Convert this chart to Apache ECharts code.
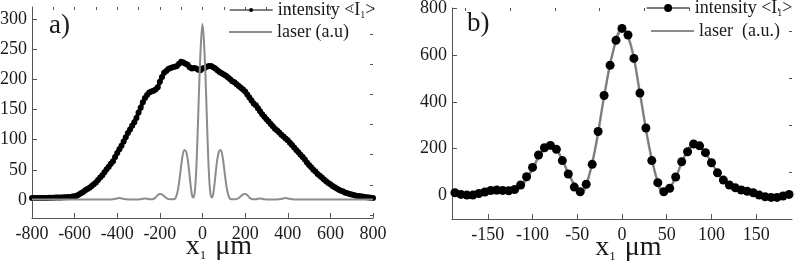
<!DOCTYPE html>
<html><head><meta charset="utf-8">
<script src="https://cdn.jsdelivr.net/npm/echarts@6/dist/echarts.min.js"></script>
<style>html,body{margin:0;padding:0;background:#fff}#c{width:795px;height:268px}</style>
</head><body><div id="c"></div>
<script>
// ---- panel a) data ----
const aIntX = [-800,-790,-780,-770,-760,-750,-740,-730,-720,-710,-700,-690,-680,-670,-660,-650,-640,-630,-620,
-610,-600,-590,-580,-570,-560,-550,-540,-530,-520,-510,-500,-490,-480,-470,-460,-450,-440,-430,-420,-410,
-400,-390,-380,-370,-360,-350,-340,-330,-320,-310,-300,-290,-280,-270,-260,-250,-240,-230,-220,-210,
-200,-190,-180,-170,-160,-150,-140,-130,-120,-110,-100,-90,-80,-70,-60,-50,-40,-30,-20,-10,
0,10,20,30,40,50,60,70,80,90,100,110,120,130,140,150,160,170,180,190,
200,210,220,230,240,250,260,270,280,290,300,310,320,330,340,350,360,370,380,390,
400,410,420,430,440,450,460,470,480,490,500,510,520,530,540,550,560,570,580,590,
600,610,620,630,640,650,660,670,680,690,700,710,720,730,740,750,760,770,780,790,800];
const aIntY = [3,3,3,3,3,3,3,3,3.5,3.5,3.5,4,4,4,4,4.5,4.5,5,5,
5.5,6,7,9,11,13,16,18,20,23,26,29,33,37,41,46,51,55,60,64,71,
78,84,90,97,104,111,117,123,129,136,145,153,162,169,174,178,180,181,183,187,
196,204,211,214,217,219,220,221,222,226,229,228,226,224,220,218,219,218,216,215,
218,219,221,222,222,220,218,215,212,210,208,206,203,200,197,195,192,189,186,183,
180,175,170,165,160,157,152,147,142,138,134,130,126,122,118,115,112,108,105,102,
99,95,91,87,83,79,75,71,67,62,58,54,50,47,43,40,37,34,31,28,
26,23,21,19,17,15,14,12,11,10,9,8,7,6.5,6,5.5,5,4.5,4,3.5,3];
const aLasX = [-800,-700,-600,-500,-450,-420,-400,-390,-380,-360,-320,-290,-280,-270,-260,-250,-235,-220,-210,-200,-190,-180,-165,-150,-135,-125,-115,-105,-95,-85,-75,-65,-55,-48,-42,-35,-28,-21,-14,-7,
0,7,14,21,28,35,42,48,55,65,75,85,95,105,115,125,135,150,165,180,190,200,210,220,235,250,260,270,280,290,320,360,380,390,400,420,450,500,600,700,800];
const aLasY = [0.5,0.5,0.5,0.5,0.5,1,2.5,3,2.5,1,0.5,1,2,2.5,2,1,1,4,8,10,9,6,2,1,1,4,17,42,70,83,78,55,22,6,4,18,60,130,205,262,
292,262,205,130,60,18,4,6,22,55,78,83,70,42,17,4,1,1,2,6,9,10,8,4,1,1,2,2.5,2,1,0.5,1,2.5,3,2.5,1,0.5,0.5,0.5,0.5,0.5];
const aXTicks = [-800,-600,-400,-200,0,200,400,600,800];
const aYTicks = [0,50,100,150,200,250,300];
const aYMinor = [-25,25,75,125,175,225,275];

// ---- panel b) data ----
const bIntX = [-186.7,-180,-173.3,-166.7,-160,-153.3,-146.7,-140,-133.3,-126.7,-120,-113.3,-106.7,-100,-93.3,-86.7,-80,-73.3,-66.7,-60,-53.3,-46.7,-40,-33.3,-26.7,-20,-13.3,-6.7,
0,6.7,13.3,20,26.7,33.3,40,46.7,53.3,60,66.7,73.3,80,86.7,93.3,100,106.7,113.3,120,126.7,133.3,140,146.7,153.3,160,166.7,173.3,180,186.7];
const bIntY = [12,5,2,2,9,15,22,23.5,22,20.5,26,45,80,120,173,204,214,197,149,92,36,16,48,133,273,427,556,662,
713,685,585,437,288,149,55,16,31,79,144,187,220,212,183,140,97,66,45,33,23.5,18,12,2,-5,-8,-8,-2,5];
const bLasX = [-190,-180,-170,-160,-150,-140,-130,-120,-110,-100,-90,-80,-70,-60,-50,-45,-40,-30,-20,-10,0,10,20,30,40,45,50,60,70,80,90,100,110,120,130,140,150,160,170,180,190];
const bLasY = [8,4,2,4,8,10,12,20,52,112,182,212,178,95,27,15,42,198,422,615,712,640,437,215,55,18,20,78,168,218,198,140,80,45,28,17,8,-3,-7,-4,4];
const bXTicks = [-150,-100,-50,0,50,100,150];
const bXMinor = [-175,-125,-75,-25,25,75,125,175];
const bYTicks = [0,200,400,600,800];
const bYMinor = [-100,100,300,500,700];

const FONT = 'Liberation Serif';
const INK = '#1a1a1a';
const AXC = '#555';
const GREY = '#8c8c8c';
const LBL = 18;

function zip(xs, ys){ return xs.map((x,i)=>[x, ys[i]]); }

function majorAxis(extra){
  return Object.assign({
    type:'value', splitLine:{show:false},
    axisLine:{show:true, onZero:false, lineStyle:{color:AXC, width:1}},
    axisTick:{show:true, inside:true, length:5, lineStyle:{color:AXC}},
    axisLabel:{color:INK, fontFamily:FONT, fontSize:LBL, margin:7}
  }, extra);
}
function minorAxis(extra){
  return Object.assign({
    type:'value', splitLine:{show:false},
    axisLine:{show:false, onZero:false},
    axisLabel:{show:false}
  }, extra);
}

const nameRich = {
  n:{fontFamily:FONT, fontSize:28, color:INK, lineHeight:30},
  s:{fontFamily:FONT, fontSize:13, color:INK, verticalAlign:'bottom', lineHeight:30, padding:[0,2,0,0]}
};
const legRich = {
  n:{fontFamily:FONT, fontSize:18, color:INK, lineHeight:20},
  s:{fontFamily:FONT, fontSize:10, color:INK, verticalAlign:'bottom', lineHeight:20}
};
const legFmt = {
  'intA':'{n|intensity <I}{s|1}{n|>}',
  'lasA':'{n|laser (a.u)}',
  'intB':'{n|intensity <I}{s|1}{n|>}',
  'lasB':'{n|laser  (a.u.)}'
};
function legendInt(name, left, top, h){
  return {data:[name], left:left, top:top, orient:'vertical', padding:0, itemWidth:43, itemHeight:h,
    selectedMode:false, formatter:(n)=>legFmt[n], textStyle:{rich:legRich},
    lineStyle:{color:AXC, width:1.3}, itemStyle:{color:'#000'}};
}
function legendLas(name, left, top){
  return {data:[name], left:left, top:top, orient:'vertical', padding:0, itemWidth:43, itemHeight:2,
    icon:'rect', selectedMode:false, formatter:(n)=>legFmt[n], textStyle:{rich:legRich},
    itemStyle:{color:GREY}};
}

const chart = echarts.init(document.getElementById('c'), null, {renderer:'canvas'});
chart.setOption({
  animation:false,
  backgroundColor:'#fff',
  grid:[
    {left:32, top:7, width:341, height:211, outerBoundsMode:'none', containLabel:false},
    {left:452, top:8, width:340, height:211, outerBoundsMode:'none', containLabel:false}
  ],
  xAxis:[
    majorAxis({gridIndex:0, min:-800, max:800, interval:200,
      name:'{n|x}{s|1}{n| μm}', nameLocation:'middle', nameGap:14, nameMoveOverlap:false,
      nameTextStyle:{rich:nameRich, padding:[0,0,0,33]}}),
    minorAxis({gridIndex:0, min:-800, max:800, interval:100,
      axisTick:{show:true, inside:true, length:3, lineStyle:{color:AXC}}}),
    majorAxis({gridIndex:1, min:-190, max:190,
      axisLabel:{color:INK, fontFamily:FONT, fontSize:LBL, margin:7, customValues:bXTicks},
      axisTick:{show:true, inside:true, length:5, lineStyle:{color:AXC}, customValues:bXTicks},
      name:'{n|x}{s|1}{n| μm}', nameLocation:'middle', nameGap:14, nameMoveOverlap:false,
      nameTextStyle:{rich:nameRich, padding:[0,0,0,13]}}),
    minorAxis({gridIndex:1, min:-190, max:190,
      axisTick:{show:true, inside:true, length:3, lineStyle:{color:AXC}, customValues:bXMinor}})
  ],
  yAxis:[
    majorAxis({gridIndex:0, min:-30, max:320,
      axisLabel:{color:INK, fontFamily:FONT, fontSize:LBL, margin:5, customValues:aYTicks},
      axisTick:{show:true, inside:true, length:5, lineStyle:{color:AXC}, customValues:aYTicks}}),
    minorAxis({gridIndex:0, min:-30, max:320,
      axisTick:{show:true, inside:true, length:3, lineStyle:{color:AXC}, customValues:aYMinor}}),
    majorAxis({gridIndex:1, min:-100, max:800,
      axisLabel:{color:INK, fontFamily:FONT, fontSize:LBL, margin:5, customValues:bYTicks},
      axisTick:{show:true, inside:true, length:5, lineStyle:{color:AXC}, customValues:bYTicks}}),
    minorAxis({gridIndex:1, min:-100, max:800,
      axisTick:{show:true, inside:true, length:3, lineStyle:{color:AXC}, customValues:bYMinor}})
  ],
  legend:[
    legendInt('intA', 229, 1, 5),
    legendLas('lasA', 229, 23),
    legendInt('intB', 646, -1, 10),
    legendLas('lasB', 651, 22)
  ],
  series:[
    {name:'intA', type:'line', xAxisIndex:0, yAxisIndex:0, data:zip(aIntX,aIntY),
     symbol:'circle', symbolSize:6, showAllSymbol:true, itemStyle:{color:'#000'},
     lineStyle:{color:'#000', width:4}, z:2},
    {name:'lasA', type:'line', xAxisIndex:0, yAxisIndex:0, data:zip(aLasX,aLasY),
     symbol:'none', smooth:0.35, lineStyle:{color:GREY, width:2}, itemStyle:{color:GREY}, z:3},
    {name:'lasB', type:'line', xAxisIndex:2, yAxisIndex:2, data:zip(bLasX,bLasY),
     symbol:'none', smooth:0.4, lineStyle:{color:GREY, width:2.5}, itemStyle:{color:GREY}, z:2},
    {name:'intB', type:'line', xAxisIndex:2, yAxisIndex:2, data:zip(bIntX,bIntY),
     symbol:'circle', symbolSize:9, showAllSymbol:true, itemStyle:{color:'#000'},
     lineStyle:{color:'#777', width:1}, z:3}
  ],
  graphic:[
    {type:'text', left:49, top:12, style:{text:'a)', fontFamily:FONT, fontSize:27, fill:INK}},
    {type:'text', left:467, top:10, style:{text:'b)', fontFamily:FONT, fontSize:27, fill:INK}}
  ]
});
</script></body></html>
